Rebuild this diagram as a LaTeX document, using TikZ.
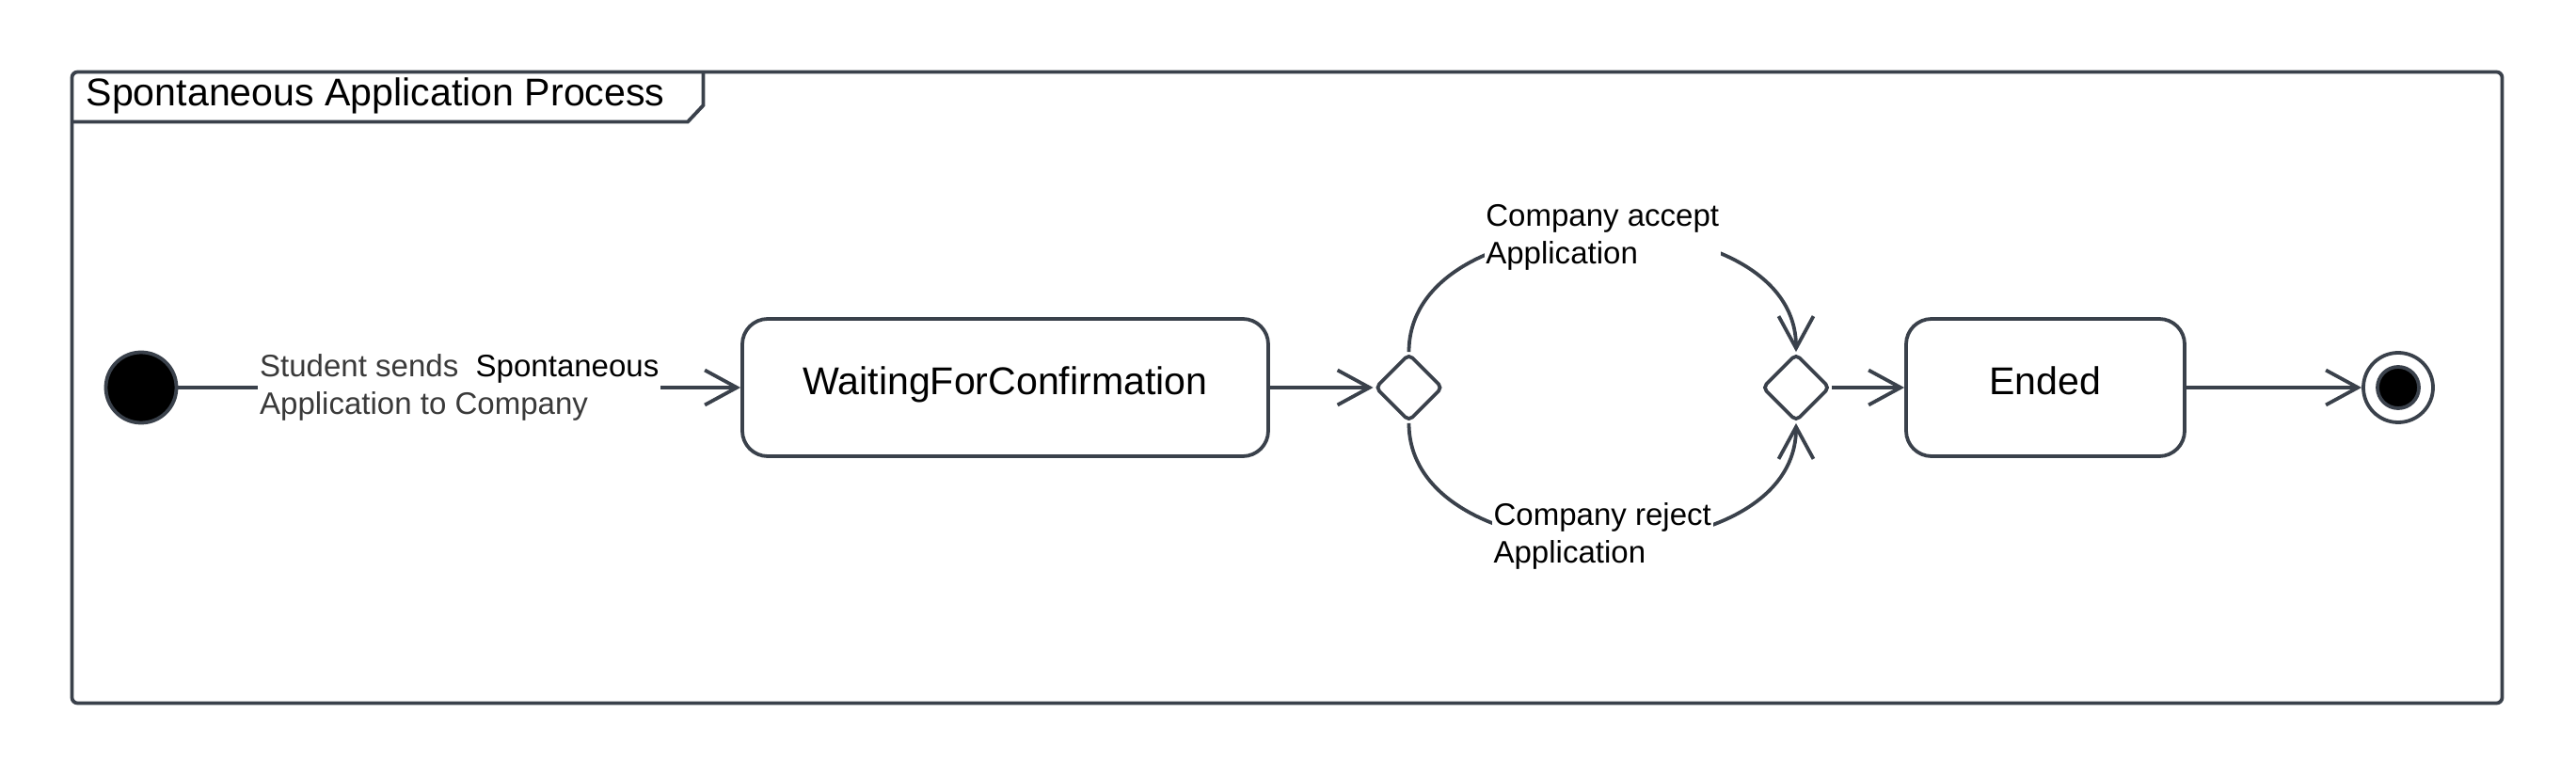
\documentclass[tikz,border=0pt]{standalone}
\usepackage{fontspec}
\setmainfont{Liberation Sans}
\usetikzlibrary{arrows.meta,shapes.geometric}
\definecolor{linea}{HTML}{3A414B}
\definecolor{grigiotesto}{HTML}{3A3A3A}
\tikzset{
  tratto/.style={line width=0.38mm},
  stato/.style={draw=linea,tratto,rounded corners=0.27cm,minimum height=1.46cm,inner sep=0pt,text height=0.75em,text depth=0.35em,font=\fontsize{11.7}{14}\selectfont},
  scelta/.style={draw=linea,tratto,diamond,minimum width=0.72cm,minimum height=0.72cm,inner sep=0pt,rounded corners=1.5pt},
  freccia/.style={draw=linea,tratto,-{Straight Barb[length=3.4mm,width=3.7mm]}},
  etichetta/.style={fill=white,inner sep=0.5pt,align=left,font=\fontsize{9.4}{11.4}\selectfont}
}
\begin{document}
\begin{tikzpicture}
	\useasboundingbox (0,0) rectangle (27.38,8.25);

	% Cornice del diagramma
	\draw[linea,tratto,rounded corners=0.6mm] (0.765,0.775) rectangle (26.595,7.485);

	% Linguetta con il titolo
	\draw[linea,tratto] (0.765,6.955) -- (7.31,6.955) -- (7.475,7.13) -- (7.475,7.485);
	\node[anchor=base west,inner sep=0pt,font=\fontsize{11.7}{14}\selectfont] (titolo) at (0.91,7.12) {Spontaneous Application Process};

	% Stato iniziale
	\node[circle,fill=black,draw=linea,tratto,minimum size=0.75cm,inner sep=0pt] (inizio) at (1.50,4.13) {};

	% Stati
	\node[stato,minimum width=5.59cm] (attesa) at (10.685,4.13) {WaitingForConfirmation};
	\node[stato,minimum width=2.96cm] (fine) at (21.74,4.13) {Ended};

	% Nodi di decisione
	\node[scelta] (scelta1) at (14.975,4.13) {};
	\node[scelta] (scelta2) at (19.09,4.13) {};

	% Stato finale
	\node[circle,draw=linea,tratto,minimum size=0.74cm,inner sep=0pt] (finale) at (25.49,4.13) {};
	\node[circle,fill=black,draw=linea,tratto,minimum size=0.44cm,inner sep=0pt] (finaleint) at (finale) {};

	% Transizioni
	\draw[freccia] (inizio) -- node[etichetta] {\textcolor{grigiotesto}{Student sends}\ \ Spontaneous\\\textcolor{grigiotesto}{Application to Company}} (attesa);
	\draw[freccia] (attesa) -- (scelta1);
	\draw[freccia] (scelta1.north) to[out=90,in=90,looseness=1.05] node[etichetta,yshift=-0.5mm] {Company accept\\Application} (scelta2.north);
	\draw[freccia] (scelta1.south) to[out=-90,in=-90,looseness=1.05] node[etichetta,yshift=0.65mm] {Company reject\\Application} (scelta2.south);
	\draw[freccia] (scelta2) -- (fine);
	\draw[freccia] (fine) -- (finale);

\end{tikzpicture}
\end{document}
